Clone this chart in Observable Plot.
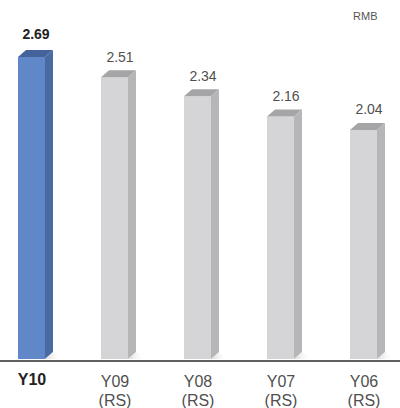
<!DOCTYPE html>
<html>
<head>
<meta charset="utf-8">
<script src="https://cdn.jsdelivr.net/npm/d3@7"></script>
<script src="https://cdn.jsdelivr.net/npm/@observablehq/plot@0.6"></script>
<style>
  html, body { margin: 0; padding: 0; background: #fff; }
</style>
</head>
<body>
<div id="chart"></div>
<script>
const categories = ["Y10", "Y09", "Y08", "Y07", "Y06"];
const values = [2.69, 2.51, 2.34, 2.16, 2.04];
const subLabels = ["", "(RS)", "(RS)", "(RS)", "(RS)"];
const unitLabel = "RMB";

const data = categories.map((c, i) => ({cat: c, value: values[i], sub: subLabels[i], hi: i === 0}));

const palette = {
  hi: {front: "#6088c8", top: "#45639b", side: "#4a6aa3"},
  lo: {front: "#d5d5d7", top: "#a5a5a7", side: "#b6b6b8"}
};
const INSET = 28, DX = 8, DY = 7;

function faces(...args) {
  const scales = args.find(a => a && typeof a === "object" && typeof a.x === "function" && typeof a.y === "function");
  const ns = "http://www.w3.org/2000/svg";
  const g = document.createElementNS(ns, "g");
  const defs = document.createElementNS(ns, "defs");
  defs.innerHTML = '<linearGradient id="shad" x1="0" x2="1" y1="0" y2="0"><stop offset="0" stop-color="#d8d8d8"/><stop offset="1" stop-color="#ffffff" stop-opacity="0"/></linearGradient>';
  g.appendChild(defs);
  const step = scales.x(categories[1]) - scales.x(categories[0]);
  const fw = step - 2 * INSET;
  const base = scales.y(0);
  for (const d of data) {
    const c = d.hi ? palette.hi : palette.lo;
    const fx = scales.x(d.cat) + INSET;
    const top = scales.y(d.value);
    const r = fx + fw;
    const polys = [
      [[fx, top], [fx + DX, top - DY], [r + DX, top - DY], [r, top], c.top],
      [[r, top], [r + DX, top - DY], [r + DX, base - DY], [r, base], c.side],
      [[r, base], [r + DX, base - DY], [r + DX + 9, base], [r, base], "url(#shad)"]
    ];
    for (const p of polys) {
      const el = document.createElementNS(ns, "polygon");
      el.setAttribute("points", p.slice(0, 4).map(q => q.join(",")).join(" "));
      el.setAttribute("fill", p[4]);
      g.appendChild(el);
    }
  }
  return g;
}

const chart = Plot.plot({
  width: 400,
  height: 408,
  marginLeft: 0,
  marginRight: 0,
  marginTop: 0,
  marginBottom: 0,
  style: {fontFamily: "'Liberation Sans', Arial, Helvetica, sans-serif", background: "#fff"},
  x: {type: "band", domain: categories, range: [-10, 405], padding: 0, axis: null},
  y: {domain: [0, 2.69], range: [359, 57], axis: null},
  color: {type: "identity"},
  marks: [
    Plot.barY(data, {x: "cat", y: "value", fill: d => d.hi ? palette.hi.front : palette.lo.front, insetLeft: INSET, insetRight: INSET}),
    faces,
    Plot.ruleY([0], {stroke: "#2b2b2b", strokeWidth: 1.6, dy: 1.5}),
    Plot.text(data.filter(d => d.hi), {x: "cat", y: "value", text: d => d.value.toFixed(2), dx: 4, dy: -19, lineAnchor: "bottom", fontSize: 14, fontWeight: "bold", fill: "#222"}),
    Plot.text(data.filter(d => !d.hi), {x: "cat", y: "value", text: d => d.value.toFixed(2), dx: 5, dy: -16, lineAnchor: "bottom", fontSize: 14, fill: "#505050"}),
    Plot.text(data.filter(d => d.hi), {x: "cat", y: () => 0, text: d => d.cat, dy: 14, lineAnchor: "top", fontSize: 16, fontWeight: "bold", fill: "#222"}),
    Plot.text(data.filter(d => !d.hi), {x: "cat", y: () => 0, text: d => d.cat + "\n" + d.sub, dy: 14, lineAnchor: "top", lineHeight: 1.2, fontSize: 16, fill: "#505050"}),
    Plot.text([unitLabel], {frameAnchor: "top-right", dx: -23, dy: 12, fontSize: 11, fill: "#555"})
  ]
});
document.getElementById("chart").appendChild(chart);
</script>
</body>
</html>
